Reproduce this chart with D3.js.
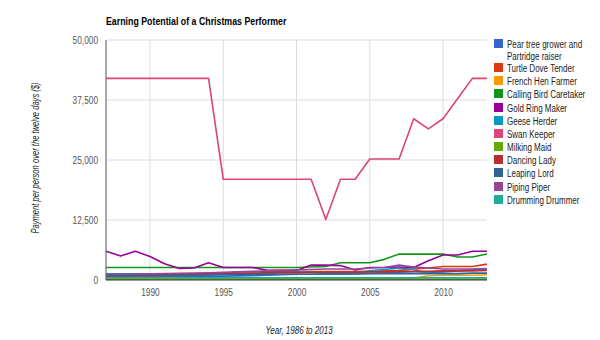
<!DOCTYPE html>
<html>
<head>
<meta charset="utf-8">
<script src="https://cdn.jsdelivr.net/npm/d3@7/dist/d3.min.js"></script>
<style>
  body { margin: 0; background: #fff; }
  svg { font-family: "Liberation Sans", Arial, sans-serif; }
</style>
</head>
<body>
<div id="chart"></div>
<script>
const years = d3.range(1987, 2014);
const yTicks = [0, 12500, 25000, 37500, 50000];
const xTicks = [1990, 1995, 2000, 2005, 2010];

const seriesNames = [
  "Pear tree grower and Partridge raiser",
  "Turtle Dove Tender",
  "French Hen Farmer",
  "Calling Bird Caretaker",
  "Gold Ring Maker",
  "Geese Herder",
  "Swan Keeper",
  "Milking Maid",
  "Dancing Lady",
  "Leaping Lord",
  "Piping Piper",
  "Drumming Drummer"
];
const seriesColors = ["#3366cc", "#dc3912", "#ff9900", "#109618", "#990099", "#0099c6",
  "#dd4477", "#66aa00", "#b82e2e", "#316395", "#994499", "#22aa99"];

const pearTree = [700, 700, 700, 750, 750, 800, 800, 800, 800, 850, 900, 1000, 1100, 1200, 1200, 1200, 1200, 1300, 1400, 1500, 1500, 1400, 1500, 1700, 1900, 2100, 2300];
const turtleDove = [800, 800, 850, 900, 900, 950, 1000, 1100, 1300, 1700, 1700, 1700, 1700, 1750, 1750, 1750, 1750, 1750, 1800, 1900, 2000, 2300, 2500, 2800, 2800, 2800, 3300];
const frenchHen = [200, 200, 200, 200, 200, 200, 200, 200, 250, 250, 250, 250, 250, 250, 250, 250, 250, 250, 250, 300, 300, 400, 900, 1000, 1000, 1000, 1100];
const callingBird = [2600, 2600, 2600, 2600, 2600, 2600, 2600, 2600, 2600, 2600, 2600, 2600, 2600, 2600, 2700, 2800, 3600, 3600, 3600, 4300, 5400, 5400, 5400, 5400, 4800, 4800, 5400];
const goldRing = [6000, 5000, 6000, 4900, 3400, 2400, 2500, 3600, 2600, 2600, 2600, 2000, 2000, 2000, 3100, 3100, 3000, 2100, 2600, 2600, 2700, 2600, 4000, 5200, 5200, 6000, 6000];
const geeseHerder = [1300, 1300, 1300, 1300, 1300, 1300, 1300, 1300, 1300, 1300, 1300, 1400, 1500, 1600, 1600, 1300, 1300, 1500, 1900, 2200, 2500, 2200, 1400, 1300, 1300, 1400, 1400];
const swanKeeper = [42000, 42000, 42000, 42000, 42000, 42000, 42000, 42000, 21000, 21000, 21000, 21000, 21000, 21000, 21000, 12600, 21000, 21000, 25200, 25200, 25200, 33600, 31500, 33600, 37800, 42000, 42000];
const milkingMaid = [150, 150, 150, 150, 150, 150, 150, 150, 150, 150, 150, 150, 150, 150, 150, 150, 150, 150, 150, 150, 150, 150, 150, 150, 150, 150, 150];
const dancingLady = [1000, 1050, 1100, 1150, 1200, 1250, 1300, 1350, 1400, 1400, 1400, 1500, 1500, 1500, 1600, 1600, 1600, 1600, 1700, 1700, 1800, 1800, 1800, 1900, 1900, 1900, 2000];
const leapingLord = [900, 900, 950, 1000, 1000, 1050, 1100, 1100, 1150, 1150, 1200, 1200, 1200, 1200, 1200, 1250, 1250, 1250, 1300, 1300, 1300, 1300, 1300, 1350, 1350, 1400, 1400];
const pipingPiper = [1200, 1200, 1250, 1300, 1350, 1400, 1450, 1500, 1600, 1700, 1800, 1900, 2000, 2100, 2200, 2300, 2300, 2300, 2500, 2600, 3100, 2700, 2500, 2300, 2300, 2300, 2400];
const drummingDrummer = [450, 450, 450, 450, 450, 450, 450, 450, 450, 450, 450, 450, 450, 450, 450, 450, 450, 450, 450, 450, 450, 450, 450, 450, 450, 450, 450];

const seriesValues = [pearTree, turtleDove, frenchHen, callingBird, goldRing, geeseHerder,
  swanKeeper, milkingMaid, dancingLady, leapingLord, pipingPiper, drummingDrummer];

const series = seriesNames.map((name, i) => ({
  name,
  color: seriesColors[i],
  values: seriesValues[i].map((v, j) => ({ year: years[j], value: v }))
}));

const W = 600, H = 340;
const plot = { left: 106, right: 487, top: 40, bottom: 280 };
const SQUEEZE = 0.8;

// the reference text is horizontally narrow, so compress glyphs a bit
function squeeze(sel, factor) {
  sel.each(function() {
    const len = this.getComputedTextLength();
    d3.select(this)
      .attr("textLength", len * factor)
      .attr("lengthAdjust", "spacingAndGlyphs");
  });
}

const svg = d3.select("#chart").append("svg")
  .attr("width", W)
  .attr("height", H);

const x = d3.scaleLinear().domain([1987, 2013]).range([plot.left, plot.right]);
const y = d3.scaleLinear().domain([0, 50000]).range([plot.bottom, plot.top]);

// gridlines
svg.append("g")
  .selectAll("line")
  .data(yTicks.filter(d => d > 0))
  .join("line")
  .attr("x1", plot.left).attr("x2", plot.right)
  .attr("y1", d => y(d)).attr("y2", d => y(d))
  .attr("stroke", "#dcdcdc").attr("stroke-width", 1);

svg.append("g")
  .selectAll("line")
  .data(xTicks)
  .join("line")
  .attr("x1", d => x(d)).attr("x2", d => x(d))
  .attr("y1", plot.top).attr("y2", plot.bottom)
  .attr("stroke", "#dcdcdc").attr("stroke-width", 1);

// y axis labels
const yAxis = svg.append("g")
  .attr("transform", `translate(${plot.left},0)`)
  .call(d3.axisLeft(y).tickValues(yTicks).tickSize(0).tickPadding(8).tickFormat(d3.format(",")));
yAxis.select(".domain").remove();
yAxis.selectAll("text").attr("fill", "#555").style("font-size", "10px").call(squeeze, 0.83);

// x axis labels
const xAxis = svg.append("g")
  .attr("transform", `translate(0,${plot.bottom})`)
  .call(d3.axisBottom(x).tickValues(xTicks).tickSize(0).tickPadding(9).tickFormat(d3.format("d")));
xAxis.select(".domain").remove();
xAxis.selectAll("text").attr("fill", "#555").style("font-size", "10px").call(squeeze, 0.83);

// lines
const line = d3.line().x(d => x(d.year)).y(d => y(d.value));
svg.append("g")
  .selectAll("path")
  .data(series)
  .join("path")
  .attr("fill", "none")
  .attr("stroke", d => d.color)
  .attr("stroke-width", 1.6)
  .attr("stroke-linejoin", "round")
  .attr("d", d => line(d.values));

// axis lines
svg.append("line")
  .attr("x1", plot.left).attr("x2", plot.left)
  .attr("y1", plot.top).attr("y2", plot.bottom)
  .attr("stroke", "#555").attr("stroke-width", 1);
svg.append("line")
  .attr("x1", plot.left).attr("x2", plot.right)
  .attr("y1", y(0)).attr("y2", y(0))
  .attr("stroke", "#333").attr("stroke-width", 1);

// title
svg.append("text")
  .attr("x", plot.left)
  .attr("y", 25)
  .style("font-size", "11px")
  .style("font-weight", "bold")
  .attr("fill", "#000")
  .text("Earning Potential of a Christmas Performer")
  .call(squeeze, SQUEEZE);

// axis titles
svg.append("text")
  .attr("transform", `translate(39,${(plot.top + plot.bottom) / 2 - 2}) rotate(-90)`)
  .attr("text-anchor", "middle")
  .style("font-size", "10px")
  .style("font-style", "italic")
  .attr("fill", "#222")
  .text("Payment per person over the twelve days ($)")
  .call(squeeze, 0.76);

svg.append("text")
  .attr("x", 299)
  .attr("y", 334)
  .attr("text-anchor", "middle")
  .style("font-size", "10px")
  .style("font-style", "italic")
  .attr("fill", "#222")
  .text("Year, 1986 to 2013")
  .call(squeeze, 0.8);

// legend
const legendY = [44, 68, 81, 94, 108, 121, 134, 147, 160, 173, 187, 200];
const legendLines = seriesNames.map((n, i) => i === 0 ? ["Pear tree grower and", "Partridge raiser"] : [n]);

const legend = svg.append("g")
  .selectAll("g")
  .data(series)
  .join("g")
  .attr("transform", (d, i) => `translate(494,${legendY[i]})`);

legend.append("rect")
  .attr("x", 0).attr("y", -5)
  .attr("width", 9).attr("height", 9)
  .attr("fill", d => d.color);

legend.selectAll("text")
  .data((d, i) => legendLines[i])
  .join("text")
  .attr("x", 13)
  .attr("y", (d, j) => 3.5 + j * 12)
  .style("font-size", "10px")
  .attr("fill", "#222")
  .text(d => d)
  .call(squeeze, SQUEEZE);
</script>
</body>
</html>
